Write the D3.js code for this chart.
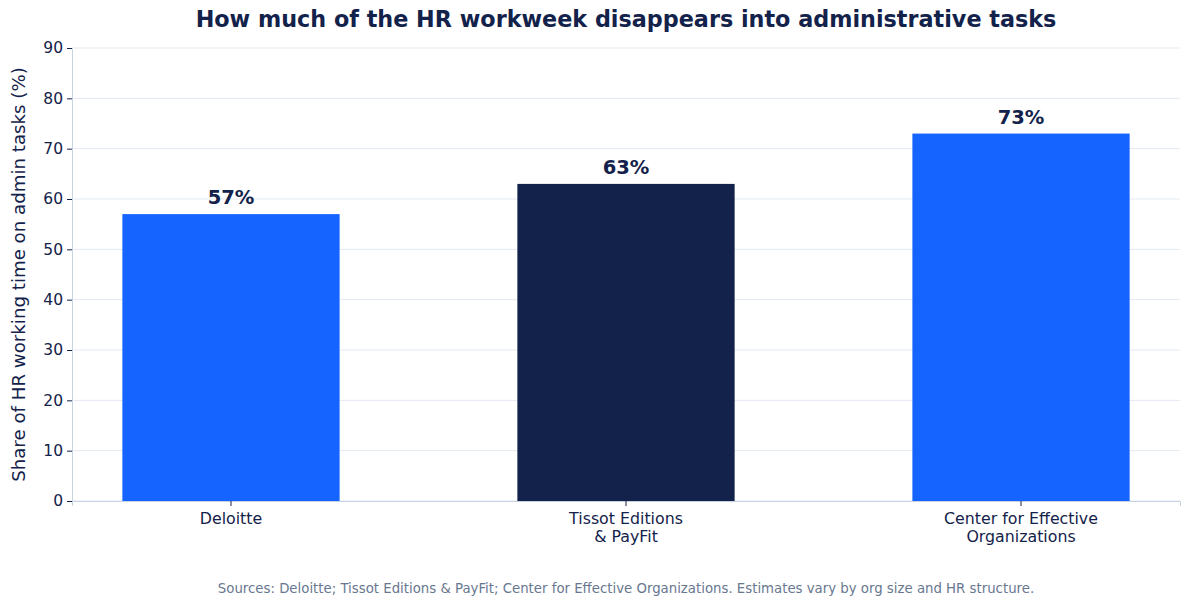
<!DOCTYPE html>
<html>
<head>
<meta charset="utf-8">
<script src="https://cdn.jsdelivr.net/npm/d3@7"></script>
<style>
  body { margin: 0; background: #fff; }
  svg { font-family: "DejaVu Sans", sans-serif; }
</style>
</head>
<body>
<svg id="chart" width="1189" height="605"></svg>
<script>
// data
var sources = [["Deloitte"], ["Tissot Editions", "& PayFit"], ["Center for Effective", "Organizations"]];
var shares = [57, 63, 73];
var barColors = ["#1664ff", "#12224a", "#1664ff"];
var yTicks = [0, 10, 20, 30, 40, 50, 60, 70, 80, 90];

var navy = "#13224a";
var svg = d3.select("#chart");
var plotLeft = 72, plotRight = 1180, plotTop = 48, plotBottom = 501;

var x = d3.scaleBand()
    .domain(d3.range(shares.length))
    .range([plotLeft, plotRight])
    .paddingInner(0.45)
    .paddingOuter(0.1275);

var y = d3.scaleLinear().domain([0, 90]).range([plotBottom, plotTop]);

// grid
svg.append("g").selectAll("line").data(yTicks).enter()
    .append("line")
    .attr("x1", plotLeft).attr("x2", plotRight)
    .attr("y1", d => y(d)).attr("y2", d => y(d))
    .attr("stroke", "#e3e9f2").attr("stroke-width", 1);

// bars
svg.append("g").selectAll("rect").data(shares).enter()
    .append("rect")
    .attr("x", (d, i) => x(i))
    .attr("width", x.bandwidth())
    .attr("y", d => y(d))
    .attr("height", d => plotBottom - y(d))
    .attr("fill", (d, i) => barColors[i]);

// value labels
svg.append("g").selectAll("text").data(shares).enter()
    .append("text")
    .attr("x", (d, i) => x(i) + x.bandwidth() / 2)
    .attr("y", d => y(d) - 10)
    .attr("text-anchor", "middle")
    .attr("font-weight", "bold")
    .attr("font-size", "19.5px")
    .attr("fill", navy)
    .text(d => d + "%");

// y axis
var yAxis = svg.append("g")
    .attr("transform", "translate(" + plotLeft + ",0)")
    .call(d3.axisLeft(y).tickValues(yTicks).tickSize(5).tickPadding(4));
yAxis.select(".domain").attr("stroke", "#c8d3e2");
yAxis.selectAll(".tick line").attr("stroke", navy);
yAxis.selectAll("text").attr("font-size", "15.5px").attr("fill", navy)
    .attr("font-family", "DejaVu Sans");

// x axis
var xAxis = svg.append("g")
    .attr("transform", "translate(0," + plotBottom + ")")
    .call(d3.axisBottom(x).tickSize(5).tickPadding(4).tickFormat(""));
xAxis.select(".domain").attr("stroke", "#c8d3e2");
xAxis.selectAll(".tick line").attr("stroke", navy);
xAxis.selectAll(".tick").each(function (d) {
    var t = d3.select(this).append("text")
        .attr("text-anchor", "middle")
        .attr("fill", navy)
        .attr("font-size", "15.8px")
        .attr("font-family", "DejaVu Sans");
    sources[d].forEach((line, k) => {
        t.append("tspan").attr("x", 0).attr("y", 23 + k * 18).text(line);
    });
});

// title
svg.append("text")
    .attr("x", 626)
    .attr("y", 27)
    .attr("text-anchor", "middle")
    .attr("font-weight", "bold")
    .attr("font-size", "22.3px")
    .attr("fill", navy)
    .text("How much of the HR workweek disappears into administrative tasks");

// y label
svg.append("text")
    .attr("transform", "translate(25," + ((plotTop + plotBottom) / 2) + ") rotate(-90)")
    .attr("text-anchor", "middle")
    .attr("font-size", "18.2px")
    .attr("fill", navy)
    .text("Share of HR working time on admin tasks (%)");

// footer
svg.append("text")
    .attr("x", 626)
    .attr("y", 593)
    .attr("text-anchor", "middle")
    .attr("font-size", "13.3px")
    .attr("fill", "#687890")
    .text("Sources: Deloitte; Tissot Editions & PayFit; Center for Effective Organizations. Estimates vary by org size and HR structure.");
</script>
</body>
</html>
